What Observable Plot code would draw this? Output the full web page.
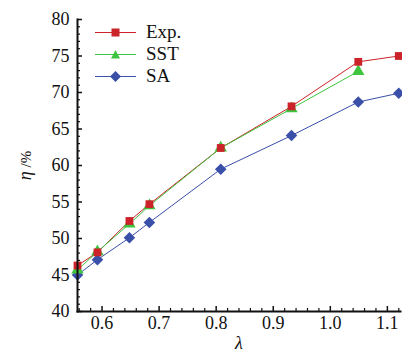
<!DOCTYPE html>
<html>
<head>
<meta charset="utf-8">
<script src="https://cdn.jsdelivr.net/npm/d3@7"></script>
<script src="https://cdn.jsdelivr.net/npm/@observablehq/plot@0.6"></script>
<style>
  html, body { margin: 0; padding: 0; background: #fff; }
  #wrap { position: relative; width: 402px; height: 351px; }
  #wrap svg text { font-family: "Liberation Serif", "Times New Roman", Times, serif; }
  #legend { position: absolute; left: 94px; top: 21px; font-family: "Liberation Serif", "Times New Roman", Times, serif; font-size: 19px; color: #111; }
  .row { display: flex; align-items: center; height: 22px; }
  .row svg { display: block; margin-right: 9px; }
</style>
</head>
<body>
<div id="wrap"></div>
<script>
// ---- data ----
const lambdaExp = [0.557, 0.592, 0.648, 0.683, 0.808, 0.932, 1.049, 1.120];
const etaExp    = [46.3, 48.1, 52.4, 54.7, 62.4, 68.1, 74.2, 75.0];
const lambdaSST = [0.557, 0.592, 0.648, 0.683, 0.808, 0.932, 1.049];
const etaSST    = [45.7, 48.2, 52.0, 54.5, 62.4, 67.8, 72.9];
const lambdaSA  = [0.557, 0.592, 0.648, 0.683, 0.808, 0.932, 1.049, 1.120];
const etaSA     = [45.0, 47.1, 50.1, 52.2, 59.5, 64.1, 68.7, 69.9];
const seriesNames = ["Exp.", "SST", "SA"];
const xMajorTicks = [0.6, 0.7, 0.8, 0.9, 1.0, 1.1];
const yMajorTicks = [40, 45, 50, 55, 60, 65, 70, 75, 80];

const colors = {"Exp.": "#cc2229", "SST": "#3ec43e", "SA": "#3a4fa8"};
const symbols = {"Exp.": "square", "SST": "triangle", "SA": "diamond2"};

const rows = [];
lambdaExp.forEach((x, i) => rows.push({s: "Exp.", x, y: etaExp[i]}));
lambdaSST.forEach((x, i) => rows.push({s: "SST", x, y: etaSST[i]}));
lambdaSA.forEach((x, i) => rows.push({s: "SA", x, y: etaSA[i]}));

const xMinor = d3.range(0.56, 1.121, 0.02).map(v => +v.toFixed(2)).filter(v => !xMajorTicks.some(t => Math.abs(t - v) < 1e-6));
const yMinor = d3.range(40, 80.1, 1).filter(v => v % 5 !== 0);

const fmtX = d => d.toFixed(1);
const FF = "Liberation Serif, Times New Roman, serif";

const chart = Plot.plot({
  width: 402,
  height: 351,
  marginLeft: 77,
  marginRight: 2,
  marginTop: 19,
  marginBottom: 40,
  style: {fontFamily: FF, fontSize: "18px", color: "#111", background: "#fff"},
  x: {domain: [0.557, 1.123]},
  y: {domain: [40, 80]},
  color: {domain: seriesNames, range: seriesNames.map(s => colors[s])},
  symbol: {domain: seriesNames, range: seriesNames.map(s => symbols[s])},
  marks: [
    Plot.axisX(xMinor, {tickSize: -3, tickFormat: () => "", label: null, strokeWidth: 1.2}),
    Plot.axisY(yMinor, {tickSize: -3, tickFormat: () => "", label: null, strokeWidth: 1.2}),
    Plot.axisX(xMajorTicks, {tickSize: -5, tickPadding: 10, tickFormat: fmtX, strokeWidth: 1.5,
      fontSize: 18, fontFamily: FF,
      label: "λ", labelArrow: "none", labelAnchor: "center", labelOffset: 37}),
    Plot.axisY(yMajorTicks, {tickSize: -5, tickPadding: 13, strokeWidth: 1.5,
      fontSize: 18, fontFamily: FF,
      label: "η /%", labelArrow: "none", labelAnchor: "center", labelOffset: 59}),
    Plot.line(rows, {x: "x", y: "y", z: "s", stroke: "s", strokeWidth: 1}),
    Plot.dot(rows.filter(d => d.s === "SA"), {x: "x", y: "y", symbol: "s", fill: "s", r: 5.2}),
    Plot.dot(rows.filter(d => d.s === "SST"), {x: "x", y: "y", symbol: "s", fill: "s", r: 4.6}),
    Plot.dot(rows.filter(d => d.s === "Exp."), {x: "x", y: "y", symbol: "s", fill: "s", r: 4.4}),
    Plot.frame({anchor: "left", strokeWidth: 2, stroke: "#111"}),
    Plot.frame({anchor: "bottom", strokeWidth: 2, stroke: "#111"})
  ]
});

// italic Greek in axis labels
chart.querySelectorAll('g[aria-label="x-axis label"] text').forEach(t => {
  t.style.fontStyle = "italic";
});
chart.querySelectorAll('g[aria-label="y-axis label"] text').forEach(t => {
  t.textContent = "";
  const a = document.createElementNS("http://www.w3.org/2000/svg", "tspan");
  a.setAttribute("font-style", "italic");
  a.textContent = "η";
  const b = document.createElementNS("http://www.w3.org/2000/svg", "tspan");
  b.textContent = " /%";
  b.setAttribute("font-size", "15px");
  t.appendChild(a); t.appendChild(b);
});

const wrap = document.getElementById("wrap");
wrap.appendChild(chart);

// legend
const legend = document.createElement("div");
legend.id = "legend";
const symPaths = {
  "Exp.": '<rect x="17.5" y="6.5" width="8" height="8"/>',
  "SST": '<path d="M21.5,6 L26,14.5 L17,14.5 Z"/>',
  "SA": '<path d="M21.5,5 L27,10.5 L21.5,16 L16,10.5 Z"/>'
};
seriesNames.forEach(s => {
  const row = document.createElement("div");
  row.className = "row";
  row.innerHTML = `<svg width="43" height="21"><line x1="1" x2="42" y1="10.5" y2="10.5" stroke="${colors[s]}" stroke-width="1"/><g fill="${colors[s]}">${symPaths[s]}</g></svg><span>${s}</span>`;
  legend.appendChild(row);
});
wrap.appendChild(legend);
</script>
</body>
</html>
